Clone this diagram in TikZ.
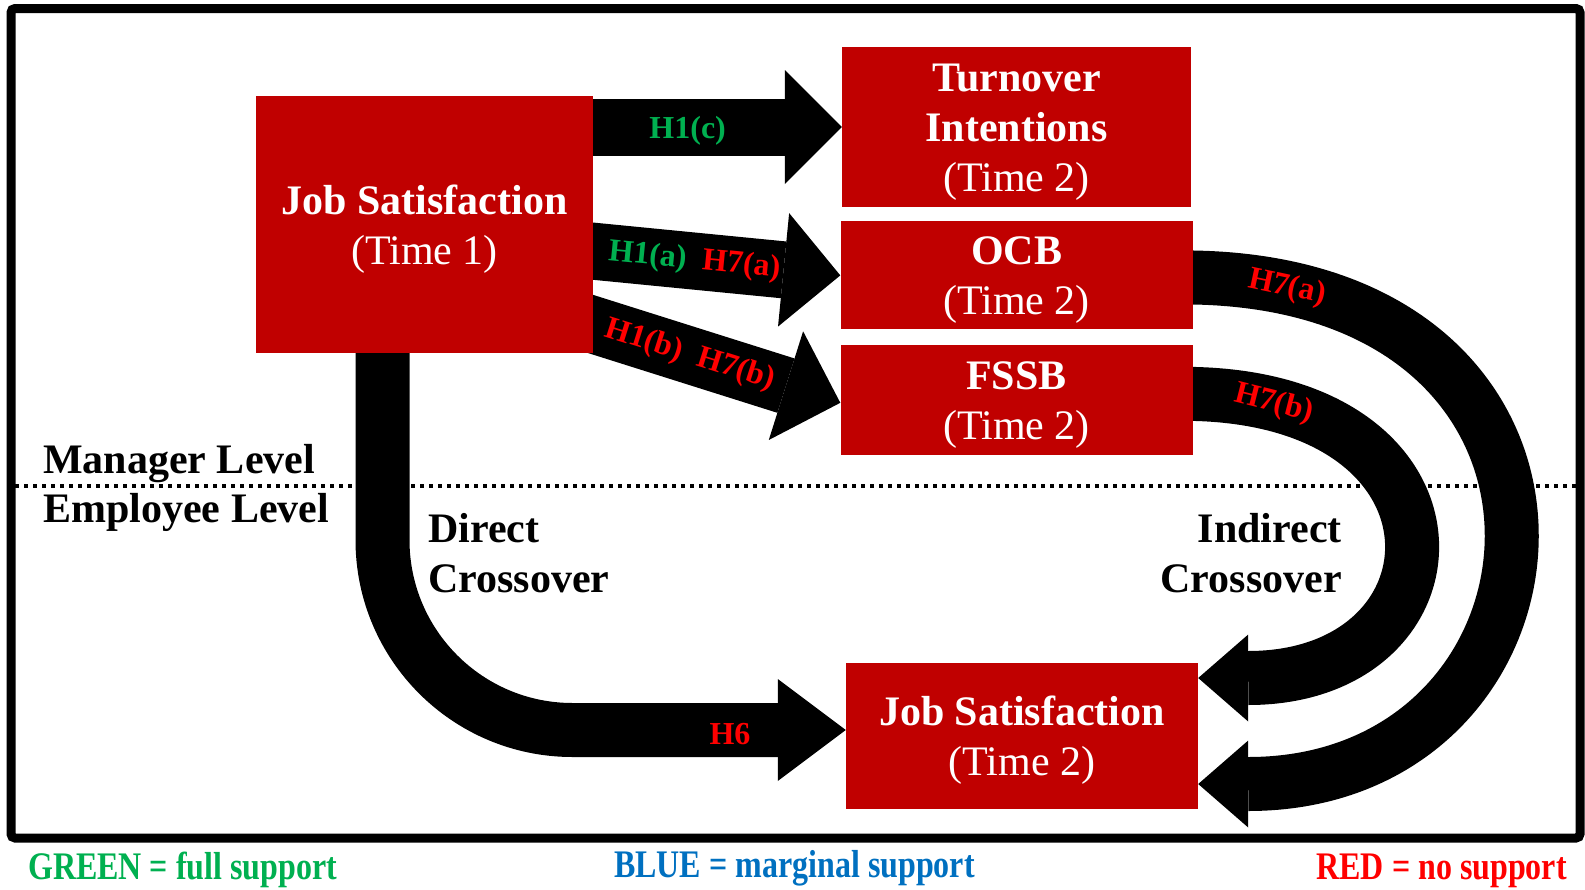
\documentclass[tikz,border=0pt]{standalone}
\usepackage{fontspec}
\usepackage{graphicx}
\setmainfont{Liberation Serif}
\usetikzlibrary{arrows.meta,positioning,backgrounds,calc}

\definecolor{boxred}{RGB}{192,0,0}
\definecolor{fullgreen}{RGB}{0,176,80}
\definecolor{margblue}{RGB}{0,112,192}
\definecolor{nored}{RGB}{255,0,0}

% taller first line, so that the text sits a little lower in the boxes
\newcommand{\capstrut}{\rule{0pt}{38pt}}

\begin{document}
\begin{tikzpicture}
    [x=1pt,y=-1pt,font=\fontsize{42}{50}\selectfont,
    construct/.style={fill=boxred,text=white,align=center,inner sep=0pt},
    layer/.style={font=\fontsize{42}{50}\selectfont\bfseries,inner sep=0pt},
    hyp/.style={font=\fontsize{32}{38}\selectfont\bfseries,inner sep=0pt},
    legendtext/.style={font=\fontsize{32}{38}\selectfont\bfseries,inner sep=0pt},
    hyparrow/.style={line width=57pt,-{Triangle[length=57pt,width=114pt,line width=0pt]}},
    curvedarrow/.style={line width=54pt,-{Triangle[length=50pt,width=87pt,line width=0pt]}},
    directarrow/.style={line width=54pt,rounded corners=190pt,-{Triangle[length=68pt,width=102pt,line width=0pt]}}]

    \useasboundingbox (0,0) rectangle (1585,889);

    \node[construct,minimum width=337pt,minimum height=257pt] (js1) at (424.5,224.5)
    {\capstrut\textbf{Job Satisfaction}\\(Time 1)};
    \node[construct,minimum width=349pt,minimum height=160pt] (turnover) at (1016.5,127)
    {\capstrut\textbf{Turnover}\\\textbf{Intentions}\\(Time 2)};
    \node[construct,minimum width=352pt,minimum height=108pt] (ocb) [below=14pt of turnover]
    {\capstrut\textbf{OCB}\\(Time 2)};
    \node[construct,minimum width=352pt,minimum height=110pt] (fssb) [below=15pt of ocb]
    {\capstrut\textbf{FSSB}\\(Time 2)};
    \node[construct,minimum width=352pt,minimum height=146pt] (js2) at (1022,736)
    {\capstrut\textbf{Job Satisfaction}\\(Time 2)};

    \node[layer,anchor=base west] (manager) at (43,473) {Manager Level};
    \node[layer,anchor=base west] (employee) at (43,522) {Employee Level};
    \node[layer,align=left,anchor=west] (direct) at (428,553) {Direct\\Crossover};
    \node[layer,align=right,anchor=east] (indirect) at (1342,553) {Indirect\\Crossover};

    \node[legendtext,text=fullgreen,anchor=base west] (green) at (28,879)
    {\scalebox{1}[1.22]{GREEN = full support}};
    \node[legendtext,text=margblue,anchor=base west] (blue) at (614,877)
    {\scalebox{1}[1.22]{BLUE = marginal support}};
    \node[legendtext,text=nored,anchor=base east] (red) at (1567,879)
    {\scalebox{1}[1.22]{RED = no support}};

    % frame
    \draw[line width=9pt,rounded corners=4pt] (11,8.5) rectangle (1580,838);

    \begin{scope}[on background layer]
    \draw[line width=4pt,dash pattern=on 4pt off 5pt] (15,486) -- (1576,486);

    \draw[hyparrow] (js1.east |- turnover.west) --
      node[hyp,text=fullgreen,pos=0.38,yshift=-4pt] (h1c) {H1(c)} (turnover.west);
    \draw[hyparrow] ([xshift=-12pt,yshift=-25.5pt]js1.east) --
      node[hyp,sloped,pos=0.437] (h7a) {\textcolor{fullgreen}{H1(a)}\enspace\textcolor{nored}{H7(a)}} (ocb.west);
    \draw[hyparrow] ([xshift=-12pt,yshift=-96.5pt]js1.east) --
      node[hyp,sloped,pos=0.42,text=nored] (h7b) {H1(b)\enspace H7(b)} ([yshift=-3pt]fssb.west);

    \draw[directarrow] ([xshift=-42pt,yshift=10pt]js1.south) |-
      node[hyp,text=nored,pos=0.875,yshift=-4pt] (h6) {H6} ([yshift=6pt]js2.west);

    \draw[curvedarrow] ([xshift=-10pt,yshift=-2pt]ocb.east) .. controls +(450,0) and +(390,0) ..
      ([yshift=-48pt]js2.east) node[hyp,sloped,pos=0.085,text=nored] (h7acurve) {H7(a)};
    \draw[curvedarrow] ([xshift=-10pt,yshift=6pt]fssb.east) .. controls +(300,0) and +(273,0) ..
      ([yshift=58pt]js2.east) node[hyp,sloped,pos=0.115,text=nored] (h7bcurve) {H7(b)};
    \end{scope}
\end{tikzpicture}
\end{document}
